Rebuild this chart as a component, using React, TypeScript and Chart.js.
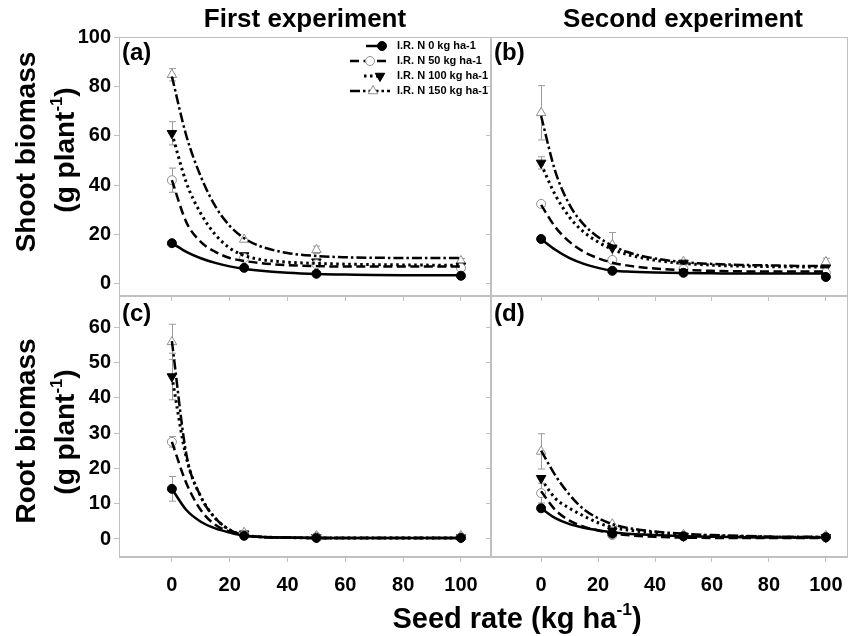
import React, { useEffect, useRef } from "react";
import { Chart, registerables } from "chart.js";

Chart.register(...registerables);

const FONT = '"Liberation Sans", Arial, Helvetica, sans-serif';

// ---------- data ----------
const SERIES_LABELS = ["I.R. N 0 kg ha-1", "I.R. N 50 kg ha-1", "I.R. N 100 kg ha-1", "I.R. N 150 kg ha-1"];
const X_FIT = [0, 5, 10, 15, 20, 25, 30, 40, 50, 60, 70, 80, 90, 100];
const X_OBS = [0, 25, 50, 100];
const X_TICKS = [0, 20, 40, 60, 80, 100];
const SHOOT_TICKS = [0, 20, 40, 60, 80, 100];
const ROOT_TICKS = [0, 10, 20, 30, 40, 50, 60];

// (a) first experiment, shoot biomass
const A_FIT_N0 = [16.5, 13, 10.4, 8.5, 7.1, 6.1, 5.4, 4.5, 4.0, 3.8, 3.6, 3.5, 3.5, 3.5];
const A_FIT_N50 = [42, 25, 17, 13, 10.5, 9.3, 8.5, 7.6, 7.2, 7.0, 7.0, 7.0, 7.0, 7.0];
const A_FIT_N100 = [61, 41, 28.5, 20, 14.5, 11.5, 10, 8.8, 8.3, 8.0, 7.8, 7.7, 7.6, 7.6];
const A_FIT_N150 = [84, 60, 43.5, 31.5, 23.5, 18.5, 15.5, 12.5, 11.3, 10.8, 10.6, 10.5, 10.5, 10.5];
const A_OBS_N0 = [16.5, 6.5, 4.1, 3.3];
const A_OBS_N50 = [42, 10.5, 8, 6.5];
const A_OBS_N100 = [61, 11.5, 9, 7.3];
const A_OBS_N150 = [84.7, 18, 13.8, 9.3];
const A_ERR_N0 = [0, 0, 0, 0];
const A_ERR_N50 = [4.9, 0, 0, 0];
const A_ERR_N100 = [4.7, 0, 0, 0];
const A_ERR_N150 = [2.5, 0, 1.5, 1];

// (b) second experiment, shoot biomass
const B_FIT_N0 = [18.2, 13.8, 10.4, 8.1, 6.5, 5.4, 5.0, 4.6, 4.4, 4.3, 4.2, 4.2, 4.2, 4.2];
const B_FIT_N50 = [32, 23, 17, 13, 10.4, 8.6, 7.5, 6.2, 5.6, 5.3, 5.1, 5.0, 5.0, 5.0];
const B_FIT_N100 = [48.5, 36, 27, 21, 17, 14, 12, 9.6, 8.3, 7.6, 7.2, 7.0, 6.9, 6.8];
const B_FIT_N150 = [68, 45.5, 32, 24, 19, 15.5, 13, 10.3, 8.8, 8.1, 7.7, 7.5, 7.3, 7.3];
const B_OBS_N0 = [18.2, 5.3, 4.5, 2.8];
const B_OBS_N50 = [32.4, 9.7, 6, 4.5];
const B_OBS_N100 = [49, 14.6, 8.5, 6.5];
const B_OBS_N150 = [69.3, 15.8, 9, 8.9];
const B_ERR_N0 = [0, 0, 0, 0];
const B_ERR_N50 = [0.5, 0, 0, 0];
const B_ERR_N100 = [2.5, 0, 0, 0];
const B_ERR_N150 = [11, 5, 0, 1.5];

// (c) first experiment, root biomass
const C_FIT_N0 = [14.2, 8.2, 4.9, 3.0, 1.8, 0.9, 0.6, 0.4, 0.3, 0.3, 0.3, 0.3, 0.3, 0.3];
const C_FIT_N50 = [27.5, 15.8, 8.2, 4.0, 2.1, 1.0, 0.6, 0.4, 0.3, 0.3, 0.3, 0.3, 0.3, 0.3];
const C_FIT_N100 = [46, 23, 12, 5.9, 2.6, 1.1, 0.6, 0.4, 0.3, 0.3, 0.3, 0.3, 0.3, 0.3];
const C_FIT_N150 = [56, 24, 12, 5.9, 2.6, 1.1, 0.6, 0.4, 0.3, 0.3, 0.3, 0.3, 0.3, 0.3];
const C_OBS_N0 = [14.2, 0.9, 0.3, 0.3];
const C_OBS_N50 = [27.5, 1.2, 0.6, 0.5];
const C_OBS_N100 = [46, 1.5, 0.5, 0.4];
const C_OBS_N150 = [55.8, 1.8, 0.9, 0.9];
const C_ERR_N0 = [3.5, 0, 0, 0];
const C_ERR_N50 = [1.5, 0, 0, 0];
const C_ERR_N100 = [6.6, 0, 0, 0];
const C_ERR_N150 = [5, 0, 0, 0];

// (d) second experiment, root biomass
const D_FIT_N0 = [8.7, 5.9, 4.2, 3.2, 2.5, 1.9, 1.5, 1.1, 0.8, 0.6, 0.5, 0.4, 0.4, 0.4];
const D_FIT_N50 = [13.5, 8.2, 5.2, 3.5, 2.4, 1.6, 1.1, 0.6, 0.4, 0.3, 0.3, 0.3, 0.3, 0.3];
const D_FIT_N100 = [17, 11.5, 8.7, 6.5, 4.6, 3.3, 2.6, 1.7, 1.2, 0.9, 0.7, 0.6, 0.5, 0.5];
const D_FIT_N150 = [25, 18, 12.5, 8.4, 5.9, 4.2, 3.2, 2.1, 1.5, 1.1, 0.9, 0.7, 0.6, 0.6];
const D_OBS_N0 = [8.7, 1.5, 0.8, 0.5];
const D_OBS_N50 = [13, 1.1, 0.7, 0.6];
const D_OBS_N100 = [17.2, 2.3, 0.8, 0.5];
const D_OBS_N150 = [24.8, 4.2, 1.2, 0.9];
const D_ERR_N0 = [0.8, 0, 0, 0];
const D_ERR_N50 = [2.8, 0, 0, 0];
const D_ERR_N100 = [0, 0, 0, 0];
const D_ERR_N150 = [5, 0, 0, 0];

// ---------- styles ----------
const GRAY = "#c0c0c0";
const MARK_GRAY = "#8f8f8f";
const STYLES = [
  { dash: [] as number[], width: 2.5, point: "circle", rot: 0, fill: "#000", stroke: "#000", r: 4.5 },
  { dash: [9, 4.5], width: 2.5, point: "circle", rot: 0, fill: "#fff", stroke: MARK_GRAY, r: 4.5 },
  { dash: [2.5, 3.5], width: 3, point: "triangle", rot: 180, fill: "#000", stroke: "#000", r: 5.5 },
  { dash: [10, 3, 2.5, 3], width: 2.5, point: "triangle", rot: 0, fill: "#fff", stroke: MARK_GRAY, r: 5.5 },
];
const LEGEND_ROWS = [
  { y: 46, x1: 366, x2: 382, mx: 382 },
  { y: 61, x1: 350, x2: 390, mx: 370 },
  { y: 76, x1: 364, x2: 380, mx: 380 },
  { y: 91, x1: 350, x2: 390, mx: 373 },
];
const LEGEND_TEXT_X = 397;

type Panel = {
  fits: number[][];
  obs: number[][];
  errs: number[][];
  yMin: number;
  yMax: number;
  yTicks: number[];
  xMin: number;
  xMax: number;
  showX: boolean;
  showY: boolean;
  legend: boolean;
  area: { left: number; top: number; right: number; bottom: number };
};

const PANELS: Panel[] = [
  {
    fits: [A_FIT_N0, A_FIT_N50, A_FIT_N100, A_FIT_N150],
    obs: [A_OBS_N0, A_OBS_N50, A_OBS_N100, A_OBS_N150],
    errs: [A_ERR_N0, A_ERR_N50, A_ERR_N100, A_ERR_N150],
    yMin: -4.9, yMax: 100, yTicks: SHOOT_TICKS, xMin: -18.3, xMax: 110.4,
    showX: false, showY: true, legend: true,
    area: { left: 119, top: 37, right: 491, bottom: 296 },
  },
  {
    fits: [B_FIT_N0, B_FIT_N50, B_FIT_N100, B_FIT_N150],
    obs: [B_OBS_N0, B_OBS_N50, B_OBS_N100, B_OBS_N150],
    errs: [B_ERR_N0, B_ERR_N50, B_ERR_N100, B_ERR_N150],
    yMin: -4.9, yMax: 100, yTicks: SHOOT_TICKS, xMin: -17.6, xMax: 107.6,
    showX: false, showY: false, legend: false,
    area: { left: 491, top: 37, right: 854, bottom: 296 },
  },
  {
    fits: [C_FIT_N0, C_FIT_N50, C_FIT_N100, C_FIT_N150],
    obs: [C_OBS_N0, C_OBS_N50, C_OBS_N100, C_OBS_N150],
    errs: [C_ERR_N0, C_ERR_N50, C_ERR_N100, C_ERR_N150],
    yMin: -5.1, yMax: 68.8, yTicks: ROOT_TICKS, xMin: -18.3, xMax: 110.4,
    showX: true, showY: true, legend: false,
    area: { left: 119, top: 296, right: 491, bottom: 557 },
  },
  {
    fits: [D_FIT_N0, D_FIT_N50, D_FIT_N100, D_FIT_N150],
    obs: [D_OBS_N0, D_OBS_N50, D_OBS_N100, D_OBS_N150],
    errs: [D_ERR_N0, D_ERR_N50, D_ERR_N100, D_ERR_N150],
    yMin: -5.1, yMax: 68.8, yTicks: ROOT_TICKS, xMin: -17.6, xMax: 107.6,
    showX: true, showY: false, legend: false,
    area: { left: 491, top: 296, right: 854, bottom: 557 },
  },
];

const W = 854;
const H = 636;

function drawMarker(ctx: CanvasRenderingContext2D, kind: string, rot: number, x: number, y: number, r: number) {
  ctx.beginPath();
  if (kind === "circle") {
    ctx.arc(x, y, r, 0, Math.PI * 2);
  } else {
    let rad = (rot * Math.PI) / 180;
    ctx.moveTo(x + Math.sin(rad) * r, y - Math.cos(rad) * r);
    rad += (2 * Math.PI) / 3;
    ctx.lineTo(x + Math.sin(rad) * r, y - Math.cos(rad) * r);
    rad += (2 * Math.PI) / 3;
    ctx.lineTo(x + Math.sin(rad) * r, y - Math.cos(rad) * r);
  }
  ctx.closePath();
}

function buildChart(canvas: HTMLCanvasElement, p: Panel) {
  const yW = p.showY ? 70 : 5;
  const xH = p.showX ? 45 : 5;

  const datasets: any[] = [];
  p.fits.forEach((f, i) => {
    datasets.push({
      label: SERIES_LABELS[i],
      data: X_FIT.map((x, j) => ({ x, y: f[j] })),
      borderColor: "#000",
      borderWidth: STYLES[i].width,
      borderDash: STYLES[i].dash,
      pointRadius: 0,
      cubicInterpolationMode: "monotone",
      fill: false,
      order: 0,
    });
  });
  p.obs.forEach((o, i) => {
    datasets.push({
      label: SERIES_LABELS[i] + " (observed)",
      data: X_OBS.map((x, j) => ({ x, y: o[j] })),
      showLine: false,
      pointStyle: STYLES[i].point,
      pointRotation: STYLES[i].rot,
      pointRadius: STYLES[i].r,
      pointBackgroundColor: STYLES[i].fill,
      pointBorderColor: STYLES[i].stroke,
      pointBorderWidth: 1,
      order: 1,
    });
  });

  const framePlugin = {
    id: "frame",
    beforeDatasetsDraw(chart: any) {
      const { ctx, chartArea: a } = chart;
      ctx.save();
      ctx.strokeStyle = GRAY;
      ctx.lineWidth = 1;
      ctx.strokeRect(Math.round(a.left) + 0.5, Math.round(a.top) + 0.5, Math.round(a.right - a.left) - 1, Math.round(a.bottom - a.top) - 1);
      // error bars
      const xs = chart.scales.x;
      const ys = chart.scales.y;
      ctx.strokeStyle = "#9a9a9a";
      p.errs.forEach((e, i) => {
        e.forEach((err, j) => {
          if (!err) return;
          const x = Math.round(xs.getPixelForValue(X_OBS[j])) + 0.5;
          const yT = ys.getPixelForValue(p.obs[i][j] + err);
          const yB = ys.getPixelForValue(p.obs[i][j] - err);
          ctx.beginPath();
          ctx.moveTo(x, yT);
          ctx.lineTo(x, yB);
          ctx.moveTo(x - 3.5, yT);
          ctx.lineTo(x + 3.5, yT);
          ctx.moveTo(x - 3.5, yB);
          ctx.lineTo(x + 3.5, yB);
          ctx.stroke();
        });
      });
      ctx.restore();
    },
  };

  const legendPlugin = {
    id: "sideLegend",
    afterDraw(chart: any) {
      if (!p.legend) return;
      const ctx: CanvasRenderingContext2D = chart.ctx;
      ctx.save();
      LEGEND_ROWS.forEach((row, i) => {
        const s = STYLES[i];
        ctx.strokeStyle = "#000";
        ctx.lineWidth = s.width;
        ctx.setLineDash(s.dash);
        ctx.beginPath();
        ctx.moveTo(row.x1, row.y);
        ctx.lineTo(row.x2, row.y);
        ctx.stroke();
        ctx.setLineDash([]);
        ctx.lineWidth = 1;
        drawMarker(ctx, s.point, s.rot, row.mx, row.y, s.r);
        ctx.fillStyle = s.fill;
        ctx.fill();
        ctx.strokeStyle = s.stroke;
        ctx.stroke();
        ctx.fillStyle = "#000";
        ctx.font = `bold 11px ${FONT}`;
        ctx.textBaseline = "middle";
        ctx.textAlign = "left";
        ctx.fillText(SERIES_LABELS[i], LEGEND_TEXT_X, row.y);
      });
      ctx.restore();
    },
  };

  return new Chart(canvas, {
    type: "line",
    data: { datasets },
    plugins: [framePlugin, legendPlugin],
    options: {
      responsive: false,
      animation: false,
      events: [],
      layout: {
        padding: {
          left: p.area.left - yW,
          top: p.area.top,
          right: W - p.area.right,
          bottom: H - p.area.bottom - xH,
        },
      },
      plugins: { legend: { display: false }, tooltip: { enabled: false } },
      scales: {
        x: {
          type: "linear",
          min: p.xMin,
          max: p.xMax,
          afterBuildTicks: (s: any) => {
            s.ticks = X_TICKS.map((v) => ({ value: v }));
          },
          afterFit: (s: any) => {
            s.height = xH;
          },
          ticks: {
            display: p.showX,
            font: { family: FONT, size: 20, weight: "bold" },
            color: "#000",
            padding: 11,
            maxRotation: 0,
          },
          grid: { drawOnChartArea: false, drawTicks: true, tickLength: 5, color: GRAY },
          border: { display: true, color: GRAY },
        },
        y: {
          type: "linear",
          min: p.yMin,
          max: p.yMax,
          afterBuildTicks: (s: any) => {
            s.ticks = p.yTicks.map((v) => ({ value: v }));
          },
          afterFit: (s: any) => {
            s.width = yW;
          },
          ticks: {
            display: p.showY,
            font: { family: FONT, size: 20, weight: "bold" },
            color: "#000",
            padding: 3,
          },
          grid: { drawOnChartArea: false, drawTicks: true, tickLength: 5, color: GRAY },
          border: { display: true, color: GRAY },
        },
      },
    } as any,
  });
}

const boldText = (size: number): React.CSSProperties => ({
  position: "absolute",
  fontFamily: FONT,
  fontWeight: "bold",
  fontSize: size,
  lineHeight: 1,
  color: "#000",
  whiteSpace: "nowrap",
});

const centered = (cx: number, cy: number, size: number, rotate = false): React.CSSProperties => ({
  ...boldText(size),
  left: cx,
  top: cy,
  transform: rotate ? "translate(-50%, -50%) rotate(-90deg)" : "translate(-50%, -50%)",
});

const SUP: React.CSSProperties = { fontSize: "0.6em", verticalAlign: "0.75em" };

export default function App() {
  const refs = [useRef<HTMLCanvasElement>(null), useRef<HTMLCanvasElement>(null), useRef<HTMLCanvasElement>(null), useRef<HTMLCanvasElement>(null)];

  useEffect(() => {
    const charts = PANELS.map((p, i) => buildChart(refs[i].current as HTMLCanvasElement, p));
    return () => charts.forEach((c) => c.destroy());
  }, []);

  return (
    <div style={{ position: "absolute", left: 0, top: 0, width: W, height: H, background: "#fff", overflow: "hidden" }}>
      {refs.map((r, i) => (
        <canvas key={i} ref={r} width={W} height={H} style={{ position: "absolute", left: 0, top: 0 }} />
      ))}
      <div style={centered(305, 18, 26)}>First experiment</div>
      <div style={centered(683, 18, 26)}>Second experiment</div>

      <div style={centered(26, 152, 28, true)}>Shoot biomass</div>
      <div style={centered(64, 150, 28, true)}>
        (g plant<span style={SUP}>-1</span>)
      </div>
      <div style={centered(26, 431, 28, true)}>Root biomass</div>
      <div style={centered(64, 432, 28, true)}>
        (g plant<span style={SUP}>-1</span>)
      </div>

      <div style={centered(517, 617, 29)}>
        Seed rate (kg ha<span style={SUP}>-1</span>)
      </div>

      <div style={{ ...boldText(24), left: 122, top: 40 }}>(a)</div>
      <div style={{ ...boldText(24), left: 494, top: 40 }}>(b)</div>
      <div style={{ ...boldText(24), left: 122, top: 301 }}>(c)</div>
      <div style={{ ...boldText(24), left: 494, top: 301 }}>(d)</div>
    </div>
  );
}
